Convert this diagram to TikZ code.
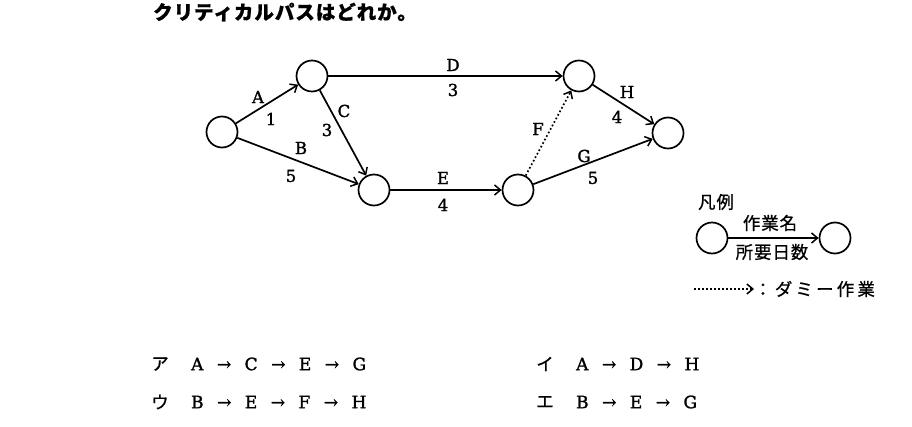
\documentclass[tikz,border=0pt]{standalone}
\usepackage{fontspec}
\setmainfont{DejaVu Serif}[FakeBold=1.5]
\newfontfamily\jpfont{Noto Sans CJK JP}[FakeBold=0.8, LetterSpace=5]
\usetikzlibrary{arrows.meta, positioning}
\newcommand{\nxt}{\hspace{13.5pt}→\hspace{13.5pt}}

\begin{document}
\begin{tikzpicture}[
    x=1pt, y=-1pt,
    event/.style={circle, draw, line width=1.7pt, minimum size=31pt, inner sep=0pt},
    activity/.style={line width=1.7pt, -{Straight Barb[length=6pt,width=10pt,line width=1.5pt]}},
    dummy/.style={activity, dash pattern=on 1.7pt off 2.3pt},
    lbl/.style={font=\fontsize{16.5}{16.5}\selectfont, inner sep=0pt},
    jp/.style={font=\fontsize{17.5}{17.5}\selectfont\jpfont, inner sep=0pt},
    question/.style={font=\fontsize{19.5}{19.5}\selectfont\jpfont\bfseries, inner sep=0pt, anchor=west},
    choice/.style={font=\fontsize{17}{17}\selectfont, inner sep=0pt}
]
\useasboundingbox (0,0) rectangle (912,427);

% Question
\node (title) [question] at (153,12) {クリティカルパスはどれか。};

% Events
\node (n1) [event] at (222,132) {};
\node (n2) [event] at (312,76) {};
\node (n3) [event] at (374,190) {};
\node (n4) [event] at (518,190) {};
\node (n5) [event] at (579,76) {};
\node (n6) [event] at (668,133) {};

% Activities
\draw [activity] (n1) -- node[lbl, shift={(-9,-7)}]{A} node[lbl, shift={(4,15)}]{1} (n2);
\draw [activity] (n1) -- node[lbl, shift={(3,-13)}]{B} node[lbl, shift={(-7,15)}]{5} (n3);
\draw [activity] (n2) -- node[lbl, shift={(1,-22)}]{C} node[lbl, shift={(-16,-3)}]{3} (n3);
\draw [activity] (n2) -- node[lbl, shift={(7.5,-11)}]{D} node[lbl, shift={(7.5,14)}]{3} (n5);
\draw [activity] (n3) -- node[lbl, shift={(-3,-12)}]{E} node[lbl, shift={(-3,15)}]{4} (n4);
\draw [dummy] (n4) -- node[lbl, shift={(-10.5,-4)}]{F} (n5);
\draw [activity] (n4) -- node[lbl, shift={(-9,-5.5)}]{G} node[lbl, shift={(0,16.5)}]{5} (n6);
\draw [activity] (n5) -- node[lbl, shift={(3.5,-12.5)}]{H} node[lbl, shift={(-6.5,12.5)}]{4} (n6);

% Legend
\node (legend) [jp] at (716,202) {凡例};
\node (keyL) [event] at (712,238) {};
\node (keyR) [event] at (835,238) {};
\draw [activity] (keyL) -- node[jp, shift={(-3.5,-15)}]{作業名} node[jp, shift={(-1.5,14)}]{所要日数} (keyR);
\coordinate (dumS) at (694,289);
\coordinate (dumE) at (754,289);
\draw [dummy] (dumS) -- (dumE);
\node (dumtxt) [jp, right=0pt of dumE] {\addfontfeature{LetterSpace=18}：ダミー作業};

% Choices
\node (optA) [jp] at (160,364) {ア};
\node (pathA) [choice, right=22pt of optA] {A\nxt C\nxt E\nxt G};
\node (optB) [jp] at (545,364) {イ};
\node (pathB) [choice, right=22pt of optB] {A\nxt D\nxt H};
\node (optC) [jp] at (160,402) {ウ};
\node (pathC) [choice, right=22pt of optC] {B\nxt E\nxt F\nxt H};
\node (optD) [jp] at (545,402) {エ};
\node (pathD) [choice, right=22pt of optD] {B\nxt E\nxt G};
\end{tikzpicture}
\end{document}
